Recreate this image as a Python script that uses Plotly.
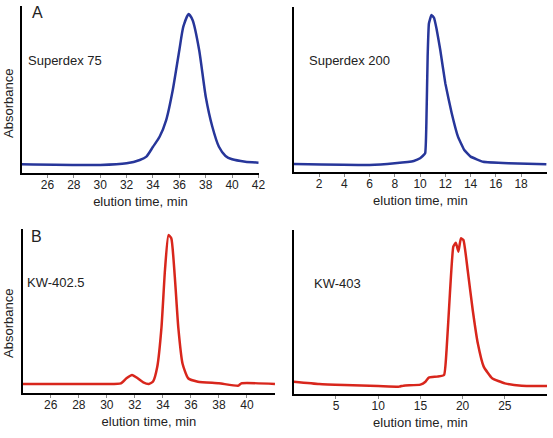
import plotly.graph_objects as go

# Superdex 75
s75_t = [24, 30, 32, 33, 33.5, 34, 34.5, 35, 35.5, 36, 36.3, 36.7, 37, 37.5, 38, 38.5, 39, 39.5, 40, 41, 42]
s75_a = [0.052, 0.048, 0.058, 0.078, 0.098, 0.157, 0.217, 0.317, 0.497, 0.737, 0.876, 0.952, 0.916, 0.737, 0.457, 0.277, 0.157, 0.102, 0.082, 0.068, 0.062]

# Superdex 200
s200_t = [0, 6, 8, 9.5, 10, 10.4, 10.5, 10.6, 10.7, 10.9, 11.1, 11.3, 11.6, 12, 12.5, 13, 13.5, 14, 15, 17, 20]
s200_a = [0.048, 0.042, 0.053, 0.067, 0.083, 0.113, 0.3, 0.7, 0.9, 0.952, 0.935, 0.87, 0.739, 0.537, 0.357, 0.214, 0.133, 0.093, 0.062, 0.053, 0.047]

# KW-402.5
kw4025_t = [24, 30, 31, 31.4, 31.8, 32.2, 32.6, 33, 33.3, 33.6, 33.9, 34.15, 34.4, 34.6, 34.85, 35.1, 35.4, 35.8, 36.5, 38, 39.4, 39.6, 42]
kw4025_a = [0.055, 0.055, 0.059, 0.09, 0.11, 0.09, 0.065, 0.055, 0.07, 0.16, 0.40, 0.75, 0.963, 0.943, 0.71, 0.40, 0.18, 0.09, 0.069, 0.059, 0.045, 0.059, 0.055]

# KW-403
kw403_t = [0, 3, 6, 10, 12.5, 13, 15, 15.6, 16, 17, 17.8, 18.1, 18.5, 18.9, 19.2, 19.5, 19.8, 20.1, 20.6, 21.2, 21.8, 22.5, 23.5, 25, 27, 30]
kw403_a = [0.075, 0.061, 0.055, 0.049, 0.045, 0.051, 0.057, 0.075, 0.10, 0.106, 0.116, 0.268, 0.614, 0.898, 0.923, 0.868, 0.949, 0.939, 0.756, 0.512, 0.309, 0.167, 0.096, 0.065, 0.051, 0.049]

tick_s75 = [26, 28, 30, 32, 34, 36, 38, 40, 42]
tick_s200 = [2, 4, 6, 8, 10, 12, 14, 16, 18]
tick_kw4025 = [26, 28, 30, 32, 34, 36, 38, 40]
tick_kw403 = [5, 10, 15, 20, 25]

BLUE = "#27369a"
RED = "#d8261c"
W, H = 553, 438
FONT = "Arial, Liberation Sans, Helvetica, sans-serif"

def px(x0, x1):
    return [x0 / W, x1 / W]

def py(top, bottom):
    return [1 - bottom / H, 1 - top / H]

fig = go.Figure()
fig.add_trace(go.Scatter(x=s75_t, y=s75_a, mode="lines", line=dict(color=BLUE, width=2.5, shape="spline", smoothing=0.6), xaxis="x", yaxis="y"))
fig.add_trace(go.Scatter(x=s200_t, y=s200_a, mode="lines", line=dict(color=BLUE, width=2.5, shape="spline", smoothing=0.3), xaxis="x2", yaxis="y2"))
fig.add_trace(go.Scatter(x=kw4025_t, y=kw4025_a, mode="lines", line=dict(color=RED, width=2.5, shape="spline", smoothing=0.5), xaxis="x3", yaxis="y3"))
fig.add_trace(go.Scatter(x=kw403_t, y=kw403_a, mode="lines", line=dict(color=RED, width=2.5, shape="spline", smoothing=0.4), xaxis="x4", yaxis="y4"))

def xax(dom, rng, ticks, anchor):
    return dict(domain=dom, range=rng, tickvals=ticks, anchor=anchor, showline=True, linecolor="black", linewidth=2,
                showgrid=False, zeroline=False, ticks="outside", ticklen=3, tickwidth=1, tickcolor="#888",
                ticklabelstandoff=-3,
                tickfont=dict(size=12, color="#222", family=FONT),
                title=dict(text="elution time, min", font=dict(size=13, color="#222", family=FONT), standoff=5))

def yax(dom, anchor):
    return dict(domain=dom, range=[0, 1], anchor=anchor, showline=True, linecolor="black", linewidth=2,
                showgrid=False, zeroline=False, showticklabels=False, ticks="")

fig.update_layout(
    width=W, height=H, margin=dict(l=0, r=0, t=0, b=0),
    paper_bgcolor="white", plot_bgcolor="white", showlegend=False,
    font=dict(family=FONT, color="#222"),
    xaxis=xax(px(22, 262), [24.05, 42.05], tick_s75, "y"),
    yaxis=yax(py(6, 173), "x"),
    xaxis2=xax(px(297, 553), [0, 20.05], tick_s200, "y2"),
    yaxis2=yax(py(7, 172), "x2"),
    xaxis3=xax(px(23, 278), [24, 42], tick_kw4025, "y3"),
    yaxis3=yax(py(229, 393), "x3"),
    xaxis4=xax(px(297, 553), [0, 30], tick_kw403, "y4"),
    yaxis4=yax(py(230, 394), "x4"),
)

def ann(text, x, y, size=13, xanchor="left", angle=0):
    fig.add_annotation(text=text, x=x / W, y=1 - y / H, xref="paper", yref="paper", showarrow=False,
                       xanchor=xanchor, yanchor="middle", textangle=angle,
                       font=dict(size=size, color="#222", family=FONT))

ann("A", 30, 12, size=16)
ann("B", 29, 236, size=16)
ann("Superdex 75", 26, 60)
ann("Superdex 200", 310, 60)
ann("KW-402.5", 25, 282)
ann("KW-403", 315, 283)
ann("Absorbance", 8, 103, xanchor="center", angle=-90)
ann("Absorbance", 8, 323, xanchor="center", angle=-90)

fig.write_html("out.html", config={"displayModeBar": False},
               post_script="document.body.style.margin='0';document.body.style.overflow='hidden';")
